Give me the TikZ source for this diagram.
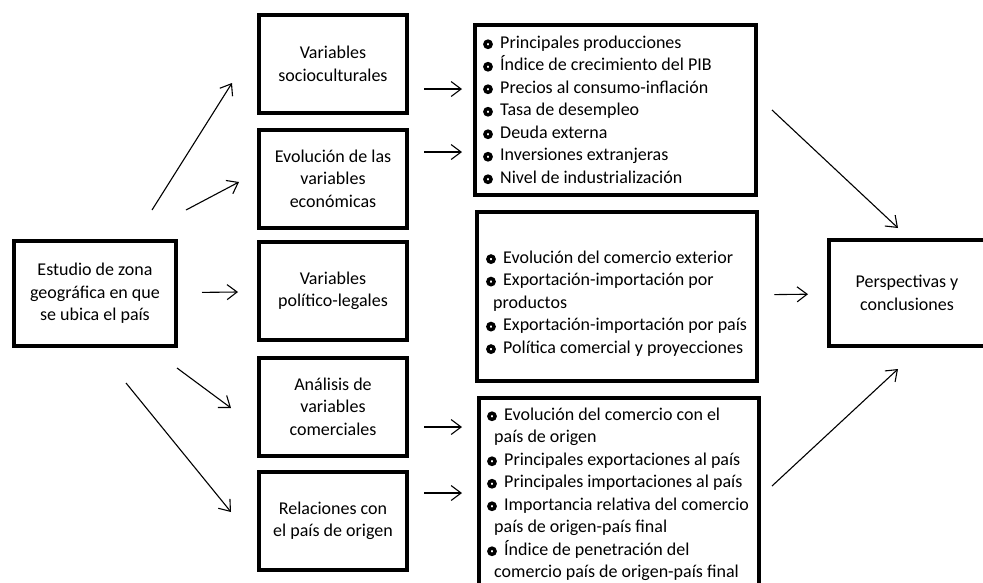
\documentclass[tikz,border=0pt]{standalone}
\usepackage{fontspec}
\setmainfont{Carlito}
\usetikzlibrary{arrows.meta}
\usetikzlibrary{positioning}
\tikzset{box/.style = {draw, line width=4pt, align=center, inner sep=0pt,
                       font=\fontsize{18}{22.5}\selectfont},
         midbox/.style = {box, minimum width=148pt, minimum height=98pt},
         listbox/.style = {box, minimum width=280.5pt},
         listtxt/.style = {anchor=west, align=left, inner sep=0pt,
                           font=\fontsize{18}{22.5}\selectfont},
         arr/.style = {-{Straight Barb[length=10pt,width=15pt]}, line width=1.1pt}}
\newcommand{\bul}{\makebox[17pt][l]{\tikz[baseline=-4.2pt]\draw[line width=3.4pt] (4.8pt,0) circle (3.1pt);}}
\newcommand{\cont}{\hspace*{7pt}}

\begin{document}
\begin{tikzpicture}[x=1pt, y=-1pt]
      \useasboundingbox (0,0) rectangle (983,582);
      \clip (0,0) rectangle (983,582);

      \node [box, minimum width=162pt, minimum height=105pt] (est) at (95,293.5)
            {Estudio de zona\\geográfica en que\\se ubica el país};

      \node [midbox] (soc) at (333,64) {Variables\\socioculturales};
      \node [midbox] (eco) at (333,178.5) {Evolución de las\\variables\\económicas};
      \node [midbox] (pol) at (333,291) {Variables\\político-legales};
      \node [midbox] (com) at (333,406.5) {Análisis de\\variables\\comerciales};
      \node [midbox] (rel) at (333,521) {Relaciones con\\el país de origen};

      \node [listbox, minimum height=169.5pt] (la) at (615.5,110) {};
      \node [listbox, minimum height=169pt] (lb) at (617,296.5) {};
      \node [listbox, minimum height=204pt] (lc) at (619,500) {};

      \node [box, minimum width=156pt, minimum height=106pt] (per) at (907,293)
            {Perspectivas y\\conclusiones};

      \node [listtxt] (ta) at (483,110) {\bul Principales producciones\\
                                        \bul Índice de crecimiento del PIB\\
                                        \bul Precios al consumo-inflación\\
                                        \bul Tasa de desempleo\\
                                        \bul Deuda externa\\
                                        \bul Inversiones extranjeras\\
                                        \bul Nivel de industrialización};
      \node [listtxt] (tb) at (486,303.5) {\bul Evolución del comercio exterior\\
                                          \bul Exportación-importación por\\
                                          \cont productos\\
                                          \bul Exportación-importación por país\\
                                          \bul Política comercial y proyecciones};
      \node [listtxt] (tc) at (487,494.5) {\bul Evolución del comercio con el\\
                                          \cont país de origen\\
                                          \bul Principales exportaciones al país\\
                                          \bul Principales importaciones al país\\
                                          \bul Importancia relativa del comercio\\
                                          \cont país de origen-país final\\
                                          \bul Índice de penetración del\\
                                          \cont comercio país de origen-país final};

      % free arrow ends
      \foreach \n/\x/\y in {u1/152/210, v1/232/83, u2/186/210, v2/239/182,
                            d1/177/368, w1/231/408, d2/126/383, w2/231/512,
                            m1/424/89, n1/462/89, m2/424/152, n2/462/152,
                            m3/424/427, n3/462/427, m4/424/493, n4/462/493,
                            p1/772/110, q1/898/228, p2/772/486, q2/898/369}
        \coordinate (\n) at (\x,\y);

      \foreach \s/\e in {u1/v1, u2/v2, d1/w1, d2/w2, m1/n1, m2/n2, m3/n3, m4/n4, p1/q1, p2/q2}
        \draw [arr] (\s) -- (\e);

      \draw [arr, shorten <=24pt, shorten >=19pt] (est) -- (pol);
      \draw [arr, shorten <=15pt, shorten >=19pt] (lb) -- (per);
    \end{tikzpicture}
\end{document}
